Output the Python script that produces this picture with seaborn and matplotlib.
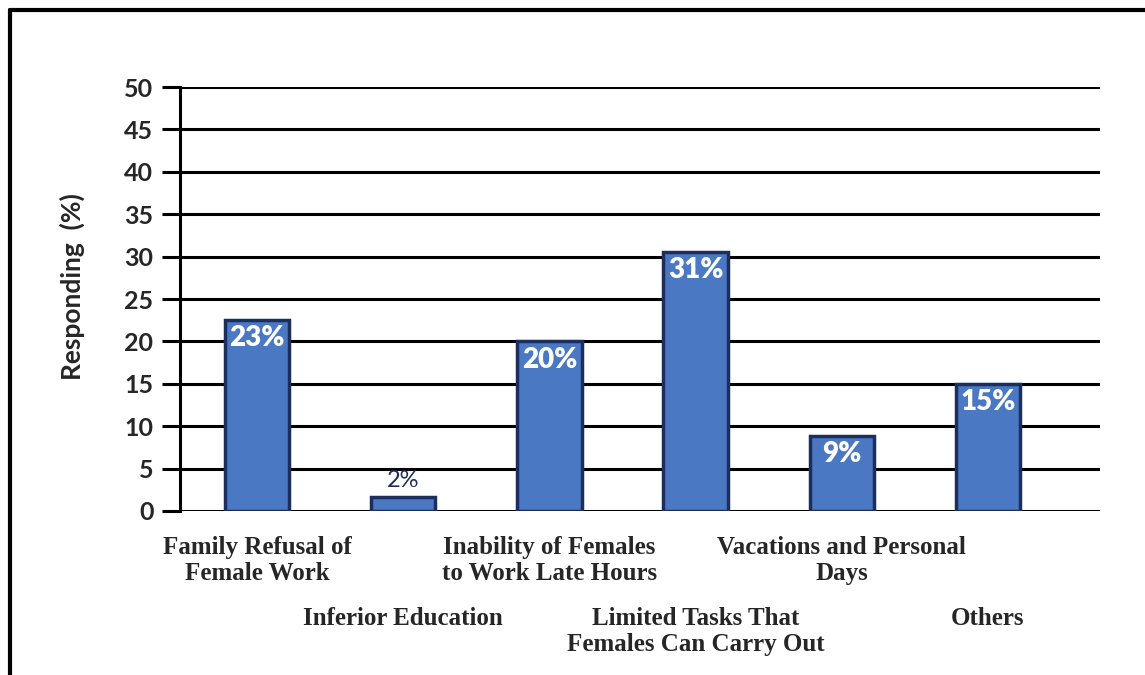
import matplotlib
matplotlib.use("Agg")
import matplotlib.pyplot as plt
import seaborn as sns
import pandas as pd
from matplotlib.lines import Line2D

# Données
categories = [
    "Family Refusal of\nFemale Work",
    "Inferior Education",
    "Inability of Females\nto Work Late Hours",
    "Limited Tasks That\nFemales Can Carry Out",
    "Vacations and Personal\nDays",
    "Others",
]
heights = [22.5, 1.7, 20.0, 30.5, 8.8, 15.0]
value_labels = ["23%", "2%", "20%", "31%", "9%", "15%"]
y_ticks = [0, 5, 10, 15, 20, 25, 30, 35, 40, 45, 50]

df = pd.DataFrame({"category": categories, "value": heights})

sns.set_style("white")
sans = ["Lato", "DejaVu Sans"]
serif = ["Liberation Serif", "DejaVu Serif"]

fig = plt.figure(figsize=(11.45, 6.75), dpi=100)
ax = fig.add_axes([0.157, 0.243, 0.804, 0.628])

sns.barplot(data=df, x="category", y="value", color="#4a78c2", width=0.44,
            edgecolor="#1c2f5c", linewidth=2.5, saturation=1, ax=ax, zorder=3)

ax.set_ylim(0, 50)
ax.set_xlim(-0.53, 5.77)
ax.set_yticks(y_ticks)
ax.set_yticklabels([str(t) for t in y_ticks], fontfamily=sans, fontweight="bold",
                   fontsize=18)

# lignes horizontales
for t in y_ticks:
    ax.axhline(t, color="black", linewidth=2.2, zorder=1)

for s in ["top", "right", "bottom"]:
    ax.spines[s].set_visible(False)
ax.spines["left"].set_color("black")
ax.spines["left"].set_linewidth(2.2)
ax.tick_params(axis="y", length=13, width=2.2, color="black", pad=6, left=True)
ax.tick_params(axis="x", length=0)

ax.set_xlabel("")
ax.set_ylabel("Responding  (%)", fontfamily=sans, fontweight="bold", fontsize=19)
ax.yaxis.set_label_coords(-0.103, 0.53)

ax.set_xticks(range(len(categories)))
ax.set_xticklabels(categories, fontfamily=serif, fontweight="bold", fontsize=18,
                   linespacing=1.15)
for i, tick in enumerate(ax.xaxis.get_major_ticks()):
    tick.set_pad(18 if i % 2 == 0 else 69)

# étiquettes des valeurs
for i, (h, lab) in enumerate(zip(heights, value_labels)):
    if h < 5:
        ax.text(i, h + 0.6, lab, ha="center", va="bottom", color="#1c2f5c",
                fontfamily=sans, fontsize=17, zorder=4)
    else:
        ax.text(i, h - 0.6, lab, ha="center", va="top", color="white",
                fontfamily=sans, fontweight="heavy", fontsize=20, zorder=4)

# cadre autour de la figure
fig.add_artist(Line2D([0.009, 1.0], [0.985, 0.985], transform=fig.transFigure,
                      color="black", linewidth=3))
fig.add_artist(Line2D([0.009, 0.009], [0.0, 0.985], transform=fig.transFigure,
                      color="black", linewidth=3))

fig.savefig("out.png", dpi=100)
